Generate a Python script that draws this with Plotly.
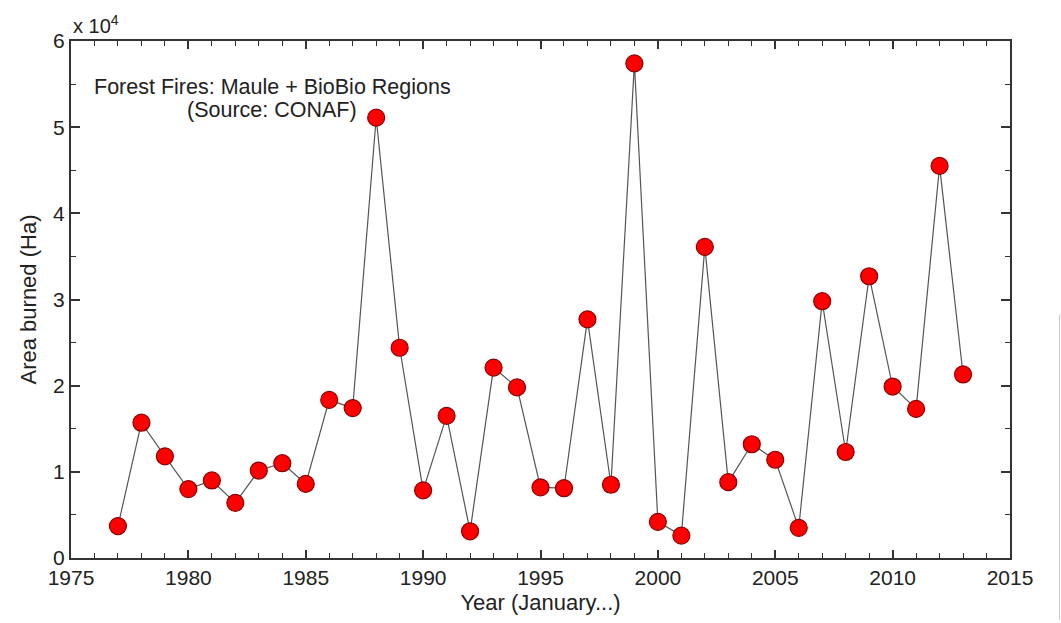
import plotly.graph_objects as go

years = list(range(1977, 2014))
area_ha = [3700, 15700, 11800, 8000, 9000, 6400, 10150, 11000, 8600, 18350,
           17400, 51100, 24400, 7850, 16500, 3100, 22100, 19800, 8200, 8100,
           27700, 8500, 57400, 4200, 2600, 36100, 8800, 13200, 11400, 3500,
           29800, 12300, 32700, 19900, 17300, 45500, 21300]

x_ticks = [1975, 1980, 1985, 1990, 1995, 2000, 2005, 2010, 2015]
y_ticks = [0, 10000, 20000, 30000, 40000, 50000, 60000]
y_ticktext = ["0", "1", "2", "3", "4", "5", "6"]

FONT = "Liberation Sans, Arial, Helvetica, sans-serif"
TXT = "#222222"
AX = "#333333"

fig = go.Figure()
fig.add_trace(go.Scatter(
    x=years, y=area_ha, mode="lines+markers",
    line=dict(color="#555555", width=1.2),
    marker=dict(size=17, color="#ff0000", line=dict(color="#8b0000", width=1.2)),
    showlegend=False, cliponaxis=False,
))

fig.update_layout(
    width=1061, height=623,
    margin=dict(l=71, r=51, t=41, b=61),
    paper_bgcolor="white", plot_bgcolor="white",
    font=dict(family=FONT, size=21, color=TXT),
    xaxis=dict(
        range=[1975, 2015], tickvals=x_ticks, ticks="inside", ticklen=8,
        tickwidth=1.5, tickcolor=AX, showline=True, linecolor=AX, linewidth=2,
        mirror="allticks", showgrid=False, zeroline=False,
        minor=dict(dtick=1, ticks="inside", ticklen=5, tickcolor=AX, tickwidth=1, showgrid=False),
        tickfont=dict(size=21, color=TXT),
        title=dict(text="Year (January...)", font=dict(size=22, color=TXT), standoff=6),
    ),
    yaxis=dict(
        range=[0, 60000], tickvals=y_ticks, ticktext=y_ticktext, ticks="inside",
        ticklen=9, tickwidth=1.5, tickcolor=AX, showline=True, linecolor=AX,
        linewidth=2, mirror="allticks", showgrid=False, zeroline=False,
        minor=dict(dtick=5000, ticks="inside", ticklen=5, tickcolor=AX, tickwidth=1, showgrid=False),
        tickfont=dict(size=21, color=TXT),
        title=dict(text="Area burned (Ha)", font=dict(size=22, color=TXT), standoff=10),
    ),
)

fig.add_annotation(x=0, y=1, xref="paper", yref="paper", xanchor="left", yanchor="bottom",
                   text="x 10<sup>4</sup>", showarrow=False, yshift=2,
                   font=dict(size=20, color=TXT))
fig.add_annotation(x=0.2144, y=0.911, xref="paper", yref="paper", xanchor="center", yanchor="middle",
                   text="Forest Fires: Maule + BioBio Regions", showarrow=False,
                   font=dict(size=21.5, color=TXT))
fig.add_annotation(x=0.2144, y=0.867, xref="paper", yref="paper", xanchor="center", yanchor="middle",
                   text="(Source: CONAF)", showarrow=False,
                   font=dict(size=21.5, color=TXT))

fig.add_shape(type="line", xref="paper", yref="paper", x0=1.0527, x1=1.0527, y0=0.4705, y1=-0.12,
              line=dict(color="#c8c8c8", width=1))

fig.write_html("out.html")
